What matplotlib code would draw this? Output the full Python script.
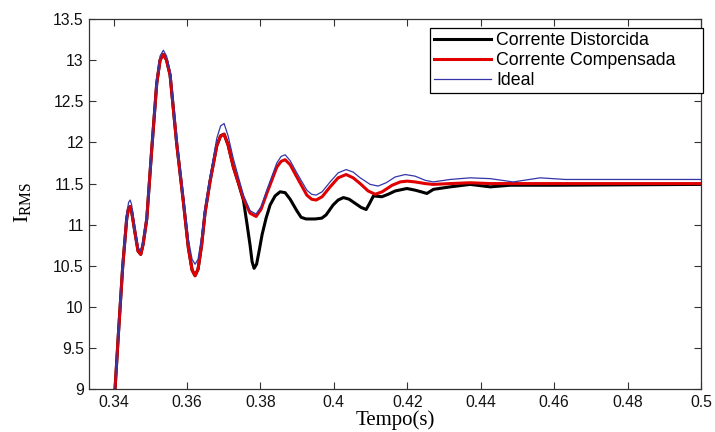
import matplotlib
matplotlib.use("Agg")
import matplotlib.pyplot as plt

plt.rcParams['font.family'] = ['Liberation Sans', 'DejaVu Sans']
plt.rcParams['mathtext.fontset'] = 'custom'
plt.rcParams['mathtext.rm'] = 'Liberation Serif'
plt.rcParams['mathtext.it'] = 'Liberation Serif:italic'

# Ideal
t_ideal = [0.33932, 0.34041, 0.34131, 0.34251, 0.34360, 0.34409, 0.34450, 0.34490, 0.34586, 0.34668,
           0.34741, 0.34804, 0.34905, 0.35041, 0.35177, 0.35267, 0.35357, 0.35444, 0.35540, 0.35722,
           0.35902, 0.36038, 0.36139, 0.36221, 0.36302, 0.36398, 0.36493, 0.36629, 0.36812, 0.36916,
           0.37011, 0.37120, 0.37264, 0.37537, 0.37719, 0.37883, 0.38019, 0.38174, 0.38447, 0.38564,
           0.38673, 0.38809, 0.38992, 0.39264, 0.39395, 0.39518, 0.39681, 0.39899, 0.40117, 0.40335,
           0.40526, 0.40717, 0.40989, 0.41207, 0.41425, 0.41670, 0.41943, 0.42215, 0.42488, 0.42706,
           0.43169, 0.43714, 0.44259, 0.44886, 0.45621, 0.46303, 0.50000]
i_ideal = [8.40, 9.00, 9.68, 10.53, 11.12, 11.27, 11.30, 11.25, 10.93, 10.72,
           10.68, 10.80, 11.10, 11.95, 12.76, 13.05, 13.12, 13.05, 12.86, 12.03,
           11.34, 10.82, 10.58, 10.52, 10.58, 10.85, 11.20, 11.58, 12.05, 12.20,
           12.23, 12.08, 11.80, 11.36, 11.17, 11.13, 11.22, 11.42, 11.75, 11.83,
           11.85, 11.78, 11.63, 11.42, 11.37, 11.36, 11.40, 11.52, 11.63, 11.67,
           11.64, 11.57, 11.49, 11.47, 11.51, 11.58, 11.61, 11.59, 11.54, 11.52,
           11.55, 11.57, 11.56, 11.52, 11.57, 11.55, 11.55]

# Corrente Compensada
t_comp = [0.33932, 0.34041, 0.34131, 0.34251, 0.34360, 0.34409, 0.34450, 0.34490, 0.34586, 0.34668,
          0.34741, 0.34804, 0.34905, 0.35041, 0.35177, 0.35267, 0.35357, 0.35444, 0.35540, 0.35722,
          0.35902, 0.36038, 0.36139, 0.36221, 0.36302, 0.36398, 0.36493, 0.36629, 0.36812, 0.36916,
          0.37011, 0.37120, 0.37264, 0.37537, 0.37719, 0.37883, 0.38019, 0.38174, 0.38447, 0.38564,
          0.38673, 0.38809, 0.38992, 0.39264, 0.39395, 0.39518, 0.39681, 0.39899, 0.40117, 0.40335,
          0.40526, 0.40717, 0.40935, 0.41125, 0.41316, 0.41589, 0.41807, 0.41998, 0.42215, 0.42488,
          0.42706, 0.43169, 0.43714, 0.44259, 0.50000]
i_comp = [8.40, 9.00, 9.66, 10.50, 11.08, 11.20, 11.22, 11.17, 10.90, 10.68,
          10.64, 10.76, 11.07, 11.92, 12.72, 13.00, 13.07, 13.00, 12.82, 11.98,
          11.28, 10.72, 10.45, 10.38, 10.46, 10.75, 11.15, 11.53, 11.96, 12.08,
          12.10, 11.97, 11.70, 11.32, 11.14, 11.10, 11.19, 11.38, 11.70, 11.77,
          11.79, 11.73, 11.58, 11.36, 11.31, 11.30, 11.34, 11.46, 11.57, 11.61,
          11.57, 11.50, 11.41, 11.37, 11.40, 11.48, 11.52, 11.53, 11.52, 11.50,
          11.49, 11.50, 11.51, 11.50, 11.50]

# Corrente Distorcida
t_dist = [0.33932, 0.34041, 0.34131, 0.34251, 0.34360, 0.34409, 0.34450, 0.34490, 0.34586, 0.34668,
          0.34741, 0.34804, 0.34905, 0.35041, 0.35177, 0.35267, 0.35357, 0.35444, 0.35540, 0.35722,
          0.35902, 0.36038, 0.36139, 0.36221, 0.36302, 0.36398, 0.36493, 0.36629, 0.36812, 0.36916,
          0.37011, 0.37120, 0.37264, 0.37392, 0.37537, 0.37638, 0.37719, 0.37774, 0.37828, 0.37896,
          0.37965, 0.38046, 0.38155, 0.38264, 0.38400, 0.38537, 0.38673, 0.38810, 0.38992, 0.39109,
          0.39245, 0.39490, 0.39673, 0.39790, 0.39981, 0.40117, 0.40262, 0.40417, 0.40580, 0.40744,
          0.40880, 0.40962, 0.41079, 0.41308, 0.41480, 0.41670, 0.41989, 0.42215, 0.42379, 0.42534,
          0.42714, 0.43168, 0.43713, 0.44258, 0.44803, 0.46030, 0.50000]
i_dist = [8.40, 9.00, 9.66, 10.50, 11.08, 11.20, 11.22, 11.17, 10.90, 10.68,
          10.64, 10.76, 11.07, 11.92, 12.72, 13.00, 13.07, 13.00, 12.82, 11.98,
          11.28, 10.72, 10.45, 10.38, 10.46, 10.75, 11.15, 11.53, 11.96, 12.08,
          12.10, 11.97, 11.70, 11.52, 11.30, 11.00, 10.75, 10.55, 10.47, 10.52,
          10.68, 10.88, 11.08, 11.24, 11.35, 11.40, 11.39, 11.31, 11.17, 11.09,
          11.07, 11.07, 11.08, 11.12, 11.24, 11.30, 11.33, 11.31, 11.26, 11.21,
          11.185, 11.25, 11.35, 11.34, 11.37, 11.41, 11.44, 11.42, 11.40, 11.38,
          11.43, 11.46, 11.49, 11.46, 11.48, 11.48, 11.49]

xticks = [0.34, 0.36, 0.38, 0.40, 0.42, 0.44, 0.46, 0.48, 0.50]
xticklabels = ['0.34', '0.36', '0.38', '0.4', '0.42', '0.44', '0.46', '0.48', '0.5']
yticks = [9, 9.5, 10, 10.5, 11, 11.5, 12, 12.5, 13, 13.5]
yticklabels = ['9', '9.5', '10', '10.5', '11', '11.5', '12', '12.5', '13', '13.5']

fig = plt.figure(figsize=(7.15, 4.32), dpi=100)
L, R, T, B = 89.3, 701.0, 19.0, 389.3
ax = fig.add_axes([L / 715, 1 - B / 432, (R - L) / 715, (B - T) / 432])

ax.plot(t_dist, i_dist, color='black', lw=2.2, label='Corrente Distorcida')
ax.plot(t_comp, i_comp, color='#e00000', lw=2.2, label='Corrente Compensada')
ax.plot(t_ideal, i_ideal, color='#3535a8', lw=0.9, label='Ideal')

ax.set_xlim(0.3334, 0.5)
ax.set_ylim(9, 13.5)
ax.set_xticks(xticks)
ax.set_xticklabels(xticklabels)
ax.set_yticks(yticks)
ax.set_yticklabels(yticklabels)
ax.tick_params(direction='in', top=True, right=True, labelsize=11.3, length=5, width=0.8,
               colors='#333333', labelcolor='#111111', pad=4)
for s in ax.spines.values():
    s.set_color('#333333')
    s.set_linewidth(0.9)

ax.set_xlabel('Tempo(s)', family='Liberation Serif', fontsize=15, labelpad=0)
ax.set_ylabel(r'$\mathrm{I_{RMS}}$', fontsize=16)
ax.yaxis.set_label_coords(-0.092, 0.506)

leg = ax.legend(loc='upper left', bbox_to_anchor=(0.557, 0.8749, 0.4463, 0.1), mode='expand',
                fontsize=12.8, frameon=True, fancybox=False, edgecolor='black', framealpha=1,
                borderaxespad=0.0, handlelength=3.2, labelspacing=0.16, borderpad=0.22,
                handletextpad=0.3)
leg.get_frame().set_linewidth(0.9)

fig.savefig('out.png', dpi=100)
